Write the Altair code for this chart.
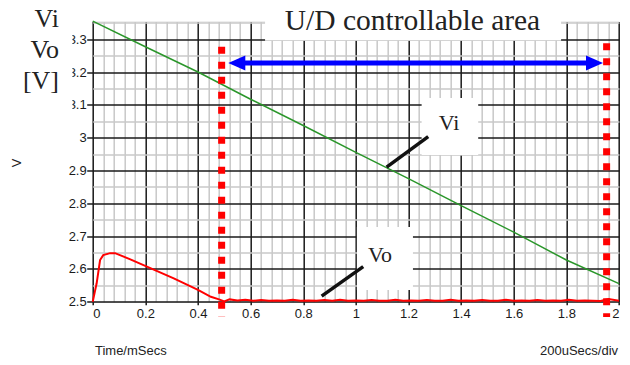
import altair as alt
import pandas as pd

# ---- data ----
vi_t = [0.0, 0.2, 0.4, 0.6, 0.8, 1.0, 1.2, 1.4, 1.6, 1.8, 2.0]
vi_v = [3.355, 3.277, 3.200, 3.117, 3.037, 2.955, 2.875, 2.793, 2.712, 2.627, 2.555]

vo_t = [0.0, 0.008, 0.015, 0.028, 0.040, 0.066, 0.085, 0.143, 0.206, 0.308, 0.400, 0.449, 0.480, 0.500,
        0.52, 0.55, 0.58, 0.61, 0.64, 0.67, 0.70, 0.73, 0.76, 0.79, 0.82, 0.85, 0.88, 0.91, 0.94, 0.97,
        1.00, 1.03, 1.06, 1.09, 1.12, 1.15, 1.18, 1.21, 1.24, 1.27, 1.30, 1.33, 1.36, 1.39, 1.42, 1.45,
        1.48, 1.51, 1.54, 1.57, 1.60, 1.63, 1.66, 1.69, 1.72, 1.75, 1.78, 1.81, 1.84, 1.87, 1.90, 1.93,
        1.96, 2.00]
vo_v = [2.500, 2.530, 2.556, 2.627, 2.642, 2.648, 2.648, 2.629, 2.607, 2.571, 2.536, 2.515, 2.507, 2.501,
        2.507, 2.504, 2.506, 2.503, 2.505, 2.503, 2.504, 2.503, 2.506, 2.503, 2.504, 2.503, 2.505, 2.503, 2.506, 2.503,
        2.504, 2.503, 2.505, 2.503, 2.503, 2.506, 2.503, 2.504, 2.503, 2.505, 2.503, 2.503, 2.506, 2.503, 2.504, 2.503,
        2.505, 2.503, 2.503, 2.506, 2.503, 2.504, 2.503, 2.505, 2.503, 2.504, 2.503, 2.506, 2.503, 2.504, 2.503, 2.502,
        2.508, 2.503]

x_ticks = [round(i * 0.04, 2) for i in range(51)]
y_ticks = [round(2.5 + i * 0.05, 2) for i in range(18)]

# annotation geometry (data units)
box_x = [0.655, -0.390, 1.250, 1.004]
box_x2 = [1.780, -0.077, 1.465, 1.217]
box_y = [3.400, 3.400, 3.121, 2.728]
box_y2 = [3.295, 3.078, 2.947, 2.536]

lead_x = [1.275, 1.028]
lead_x2 = [1.117, 0.870]
lead_y = [3.003, 2.607]
lead_y2 = [2.910, 2.517]

marker_t = [0.490, 1.953]
marker_top = [3.277, 3.288]
marker_bottom = [2.453, 2.453]

arrow_y = 3.2275
arrow_left = 0.5476
arrow_right = 1.9069

XDOM = [0, 2]
YDOM = [2.5, 3.354]

vi_df = pd.DataFrame({"x": vi_t, "y": vi_v})
vo_df = pd.DataFrame({"x": vo_t, "y": vo_v})
box_df = pd.DataFrame({"x": box_x, "x2": box_x2, "y": box_y, "y2": box_y2})
lead_df = pd.DataFrame({"x": lead_x, "x2": lead_x2, "y": lead_y, "y2": lead_y2})
mark_df = pd.DataFrame({"x": marker_t, "y": marker_top, "y2": marker_bottom})
arrow_df = pd.DataFrame({"x": [arrow_left], "x2": [arrow_right], "y": [arrow_y]})
arrow_r_df = pd.DataFrame({"x": [arrow_right], "y": [arrow_y]})

xs = alt.Scale(domain=XDOM, nice=False, zero=False)
ys = alt.Scale(domain=YDOM, nice=False, zero=False)

major_x = "abs(datum.value*5 - round(datum.value*5)) < 0.001"
major_y = "abs(datum.value*10 - round(datum.value*10)) < 0.001"

x_axis = alt.Axis(
    values=x_ticks, title=None, domain=False, grid=True, zindex=0,
    gridColor={"condition": {"test": major_x, "value": "#1a1a1a"}, "value": "#c8c8c8"},
    gridWidth=1.5,
    tickColor={"condition": {"test": major_x, "value": "#1a1a1a"}, "value": "transparent"},
    tickSize=3, tickWidth=1.5, labelPadding=3,
    labelExpr=major_x + " ? format(datum.value, '.1~f') : ''",
    labelOverlap=False, labelFont="Liberation Sans", labelFontSize=13, labelColor="#1a1a1a",
)
y_axis = alt.Axis(
    values=y_ticks, title="V", domain=False, grid=True, zindex=0,
    gridColor={"condition": {"test": major_y, "value": "#1a1a1a"}, "value": "#c8c8c8"},
    gridWidth=1.5,
    tickColor={"condition": {"test": major_y, "value": "#1a1a1a"}, "value": "transparent"},
    tickSize=6, tickWidth=1.5, labelPadding=0.5,
    labelExpr=major_y + " ? format(datum.value, '.1~f') : ''",
    labelOverlap=False, labelFont="Liberation Sans", labelFontSize=13, labelColor="#1a1a1a",
    titleFont="Liberation Sans", titleFontSize=13, titleFontWeight="normal", titleColor="#222",
    titleX=-76, titleY=141, titleAlign="center", titleBaseline="middle", titleAngle=270,
)

X = alt.X("x:Q", scale=xs, axis=x_axis)
Y = alt.Y("y:Q", scale=ys, axis=y_axis)

boxes = alt.Chart(box_df).mark_rect(color="white").encode(x=X, x2="x2:Q", y=Y, y2="y2:Q")

vi_line = alt.Chart(vi_df).mark_line(color="#2a962a", strokeWidth=1.5).encode(x=X, y=Y)

vo_line = alt.Chart(vo_df).mark_line(color="#ff0000", strokeWidth=2).encode(x=X, y=Y)

markers = alt.Chart(mark_df).mark_rule(color="#ff0000", strokeWidth=7, strokeDash=[7, 8]).encode(
    x=X, y=Y, y2="y2:Q"
)

arrow_line = alt.Chart(arrow_df).mark_rule(color="#0000ff", strokeWidth=5).encode(
    x=X, x2="x2:Q", y=Y
)
arrow_l = alt.Chart(arrow_df).mark_point(
    shape="M-1,0L1,-0.88L1,0.88Z", size=289, filled=True, color="#0000ff", opacity=1
).encode(x=X, y=Y)
arrow_r = alt.Chart(arrow_r_df).mark_point(
    shape="M1,0L-1,-0.88L-1,0.88Z", size=289, filled=True, color="#0000ff", opacity=1
).encode(x=X, y=Y)

leaders = alt.Chart(lead_df).mark_rule(color="#111", strokeWidth=3.5).encode(
    x=X, x2="x2:Q", y=Y, y2="y2:Q"
)

serif = "Liberation Serif"
txt_df = pd.DataFrame({"x": [1.354, 1.092], "y": [3.0447, 2.6423], "s": ["Vi", "Vo"]})
curve_labels = alt.Chart(txt_df).mark_text(
    font=serif, fontSize=22, color="#222", align="center", baseline="middle"
).encode(x=X, y=Y, text="s:N")

title_df = pd.DataFrame({"x": [1.2153], "y": [3.3281], "s": ["U/D controllable area"]})
title_txt = alt.Chart(title_df).mark_text(
    font=serif, fontSize=29.5, color="#222", align="center", baseline="alphabetic"
).encode(x=X, y=Y, text="s:N")

unit_df = pd.DataFrame({"x": [-0.1281] * 3, "y": [3.3382, 3.2427, 3.1482], "s": ["Vi", "Vo", "[V]"]})
unit_txt = alt.Chart(unit_df).mark_text(
    font=serif, fontSize=26, color="#222", align="right", baseline="alphabetic"
).encode(x=X, y=Y, text="s:N")

foot_l = alt.Chart(pd.DataFrame({"x": [0.0087], "y": [2.3375], "s": ["Time/mSecs"]})).mark_text(
    font="Liberation Sans", fontSize=13, color="#222", align="left", baseline="alphabetic"
).encode(x=X, y=Y, text="s:N")
foot_r = alt.Chart(pd.DataFrame({"x": [1.9963], "y": [2.3375], "s": ["200uSecs/div"]})).mark_text(
    font="Liberation Sans", fontSize=13, color="#222", align="right", baseline="alphabetic"
).encode(x=X, y=Y, text="s:N")

chart = alt.layer(
    boxes, vi_line, vo_line, markers, arrow_line, arrow_l, arrow_r, leaders,
    curve_labels, title_txt, unit_txt, foot_l, foot_r
).properties(
    width=526.3, height=280.2,
    autosize=alt.AutoSizeParams(type="none"),
    padding={"left": 84.7, "top": 13.5, "right": 3, "bottom": 55},
).configure_view(stroke=None).configure(background="white")

chart.save("out.html", embed_options={"renderer": "svg", "actions": False})
